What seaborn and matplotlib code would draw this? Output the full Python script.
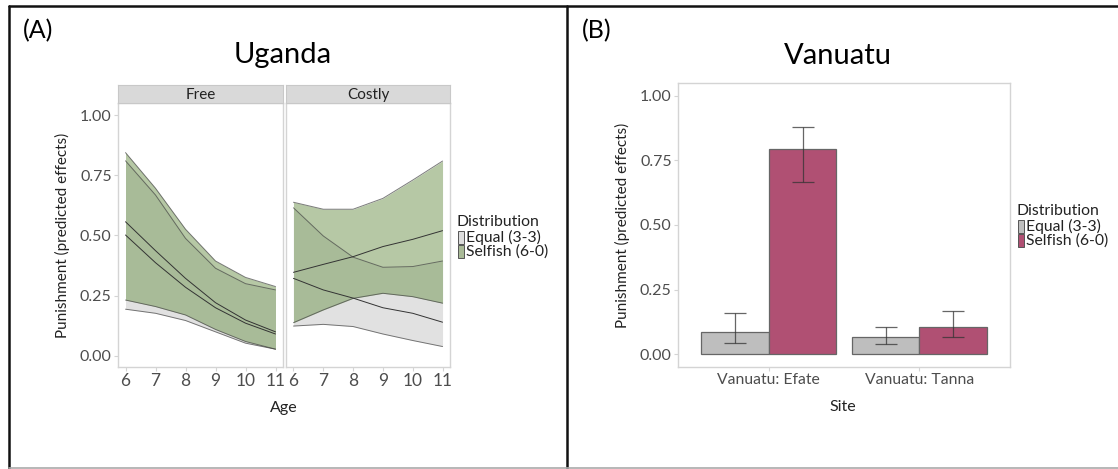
import numpy as np
import pandas as pd
import matplotlib
matplotlib.use("Agg")
import matplotlib.pyplot as plt
from matplotlib.lines import Line2D
from matplotlib.patches import Patch, Rectangle
import seaborn as sns

# ---------------- data ----------------
ages = [6, 7, 8, 9, 10, 11]
distributions = ["Equal (3-3)", "Selfish (6-0)"]
conditions = ["Free", "Costly"]

# Uganda predicted effects (mean, lower, upper)
free_equal_mean = [0.502, 0.387, 0.285, 0.200, 0.136, 0.091]
free_equal_lo = [0.194, 0.177, 0.147, 0.100, 0.053, 0.028]
free_equal_hi = [0.810, 0.668, 0.488, 0.364, 0.300, 0.274]
free_selfish_mean = [0.557, 0.437, 0.322, 0.221, 0.149, 0.100]
free_selfish_lo = [0.232, 0.205, 0.170, 0.110, 0.060, 0.028]
free_selfish_hi = [0.844, 0.696, 0.526, 0.394, 0.326, 0.288]

costly_equal_mean = [0.322, 0.274, 0.240, 0.200, 0.177, 0.140]
costly_equal_lo = [0.124, 0.131, 0.122, 0.091, 0.064, 0.039]
costly_equal_hi = [0.615, 0.498, 0.410, 0.368, 0.371, 0.394]
costly_selfish_mean = [0.347, 0.380, 0.412, 0.454, 0.484, 0.520]
costly_selfish_lo = [0.138, 0.191, 0.239, 0.260, 0.246, 0.219]
costly_selfish_hi = [0.638, 0.609, 0.609, 0.654, 0.730, 0.809]

# Vanuatu
sites = ["Vanuatu: Efate", "Vanuatu: Tanna"]
van_equal = [0.084, 0.065]
van_equal_lo = [0.044, 0.039]
van_equal_hi = [0.161, 0.106]
van_selfish = [0.795, 0.105]
van_selfish_lo = [0.668, 0.066]
van_selfish_hi = [0.881, 0.167]

yticks = [0.0, 0.25, 0.5, 0.75, 1.0]
ytick_labels = ["0.00", "0.25", "0.50", "0.75", "1.00"]

# ---------------- tables ----------------
rows = []
series = {
    ("Free", distributions[0]): (free_equal_mean, free_equal_lo, free_equal_hi),
    ("Free", distributions[1]): (free_selfish_mean, free_selfish_lo, free_selfish_hi),
    ("Costly", distributions[0]): (costly_equal_mean, costly_equal_lo, costly_equal_hi),
    ("Costly", distributions[1]): (costly_selfish_mean, costly_selfish_lo, costly_selfish_hi),
}
for (cond, dist), (m, lo, hi) in series.items():
    for a, mv, lv, hv in zip(ages, m, lo, hi):
        rows.append(dict(Condition=cond, Distribution=dist, Age=a, mean=mv, lo=lv, hi=hv))
uganda = pd.DataFrame(rows)

vrows = []
for s, e, elo, ehi, sf, slo, shi in zip(sites, van_equal, van_equal_lo, van_equal_hi,
                                        van_selfish, van_selfish_lo, van_selfish_hi):
    vrows.append(dict(Site=s, Distribution=distributions[0], val=e, lo=elo, hi=ehi))
    vrows.append(dict(Site=s, Distribution=distributions[1], val=sf, lo=slo, hi=shi))
vanuatu = pd.DataFrame(vrows)

# ---------------- style ----------------
sns.set_theme(style="white")
plt.rcParams["font.family"] = ["Lato", "DejaVu Sans"]
TXT = "#222222"
TICK = "#4d4d4d"
BORDER = "#d4d4d4"

W, H = 1118, 469
fig = plt.figure(figsize=(W / 100, H / 100), dpi=100)

def fx(px):
    return px / W

def fy(py):
    return 1 - py / H

def add_axes_px(l, t, r, b):
    return fig.add_axes([fx(l), fy(b), fx(r - l), (b - t) / H])

def style_axes(ax):
    for sp in ax.spines.values():
        sp.set_color(BORDER)
        sp.set_linewidth(1.0)
    ax.tick_params(axis="both", colors=BORDER, labelcolor=TICK, labelsize=11.5,
                   length=3, width=0.8, pad=1.5, direction="out",
                   bottom=True, left=True)
    ax.grid(False)
    ax.set_facecolor("white")

ribbon_col = {distributions[0]: ("#bdbdbd", 0.45), distributions[1]: ("#789b5a", 0.54)}
edge_col = "#444444"

ax_free = add_axes_px(118, 103, 283, 367)
ax_cost = add_axes_px(286, 103, 450, 367)
for ax, cond in [(ax_free, "Free"), (ax_cost, "Costly")]:
    sub = uganda[uganda.Condition == cond]
    for dist in distributions:
        d = sub[sub.Distribution == dist]
        c, a = ribbon_col[dist]
        ax.fill_between(d.Age, d.lo, d.hi, color=c, alpha=a, lw=0, zorder=1)
        ax.plot(d.Age, d.lo, color=edge_col, lw=0.7, alpha=0.7, zorder=2)
        ax.plot(d.Age, d.hi, color=edge_col, lw=0.7, alpha=0.7, zorder=2)
    sns.lineplot(data=sub, x="Age", y="mean", hue="Distribution", hue_order=distributions,
                 palette={distributions[0]: "#333333", distributions[1]: "#333333"},
                 lw=0.7, legend=False, ax=ax, zorder=3)
    style_axes(ax)
    ax.set_xlim(5.75, 11.25)
    ax.set_ylim(-0.046, 1.05)
    ax.set_xticks(ages)
    ax.set_xticklabels([str(a) for a in ages])
    ax.tick_params(axis="x", labelsize=12.5)
    ax.set_xlabel("")
    ax.set_ylabel("")
    ax.set_yticks(yticks)
ax_free.set_yticklabels(ytick_labels)
ax_cost.set_yticklabels([])
ax_cost.tick_params(axis="y", left=False)

# facet strips
for (l, r), lab in [((118, 283), "Free"), ((286, 450), "Costly")]:
    sax = add_axes_px(l, 85, r, 103)
    sax.set_xticks([]); sax.set_yticks([])
    sax.set_facecolor("#d9d9d9")
    for sp in sax.spines.values():
        sp.set_color("#c8c8c8")
        sp.set_linewidth(0.8)
    sax.text(0.5, 0.45, lab, ha="center", va="center", fontsize=11, color="#222222",
             transform=sax.transAxes)

# ---------------- Vanuatu ----------------
axv = add_axes_px(678, 83, 1010, 367)
bar_pal = {distributions[0]: "#bebebe", distributions[1]: "#b05073"}
sns.barplot(data=vanuatu, x="Site", y="val", hue="Distribution", hue_order=distributions,
            order=sites, palette=bar_pal, width=0.9, errorbar=None, legend=False,
            edgecolor="#666666", linewidth=0.9, saturation=1, ax=axv)
# error bars at bar centres (seaborn adds patches hue level by hue level)
bars = [p for p in axv.patches if p.get_height() > 0]
ordered = vanuatu.set_index(["Distribution", "Site"])
k = 0
for dist in distributions:
    for s in sites:
        p = bars[k]
        k += 1
        cx = p.get_x() + p.get_width() / 2
        r = ordered.loc[(dist, s)]
        axv.errorbar([cx], [r.val], yerr=[[r.val - r.lo], [r.hi - r.val]], fmt="none",
                     ecolor="#333333", alpha=0.75, elinewidth=0.9, capsize=8, capthick=0.9,
                     zorder=5)
style_axes(axv)
axv.set_xlim(-0.6, 1.6)
axv.set_ylim(-0.05, 1.05)
axv.set_yticks(yticks)
axv.set_yticklabels(ytick_labels)
axv.set_xlabel("")
axv.set_ylabel("")
axv.tick_params(axis="x", labelsize=11.3)

# ---------------- texts ----------------
fig.text(fx(23), fy(31), "(A)", fontsize=18, color="black", ha="left", va="center")
fig.text(fx(582), fy(31), "(B)", fontsize=18, color="black", ha="left", va="center")
fig.text(fx(283), fy(55), "Uganda", fontsize=21, color="black", ha="center", va="center")
fig.text(fx(838), fy(56), "Vanuatu", fontsize=21, color="black", ha="center", va="center")
fig.text(fx(284), fy(408), "Age", fontsize=11.5, color=TXT, ha="center", va="center")
fig.text(fx(843), fy(407), "Site", fontsize=11.5, color=TXT, ha="center", va="center")
fig.text(fx(62), fy(235), "Punishment (predicted effects)", fontsize=11, color=TXT,
         rotation=90, ha="center", va="center")
fig.text(fx(622), fy(225), "Punishment (predicted effects)", fontsize=11, color=TXT,
         rotation=90, ha="center", va="center")

# ---------------- legends ----------------
def legend(x0, ytitle, fills):
    fig.text(fx(x0), fy(ytitle), "Distribution", fontsize=11.3, color=TXT,
             ha="left", va="center")
    for i, (lab, fc) in enumerate(zip(distributions, fills)):
        ytop = ytitle + 9 + i * 14
        fig.add_artist(Rectangle((fx(x0 + 1), fy(ytop + 13)), fx(6), 13 / H,
                                 facecolor=fc, edgecolor="#555555", lw=0.7,
                                 transform=fig.transFigure))
        fig.text(fx(x0 + 9), fy(ytop + 6.5), lab, fontsize=11.3, color=TXT,
                 ha="left", va="center")

legend(457, 222, ["#dcdcdc", "#a9ba97"])
legend(1017, 211, ["#bebebe", "#b05073"])

# ---------------- frame lines ----------------
fig.add_artist(Line2D([fx(9), fx(9)], [fy(6), fy(469)], color="#111111", lw=1.8,
                      transform=fig.transFigure))
fig.add_artist(Line2D([fx(9), fx(1118)], [fy(6), fy(6)], color="#111111", lw=1.8,
                      transform=fig.transFigure))
fig.add_artist(Line2D([fx(567), fx(567)], [fy(6), fy(469)], color="#111111", lw=1.8,
                      transform=fig.transFigure))
fig.add_artist(Line2D([fx(9), fx(1118)], [fy(468), fy(468)], color="#aaaaaa", lw=1.2,
                      transform=fig.transFigure))

fig.savefig("out.png", dpi=100)
